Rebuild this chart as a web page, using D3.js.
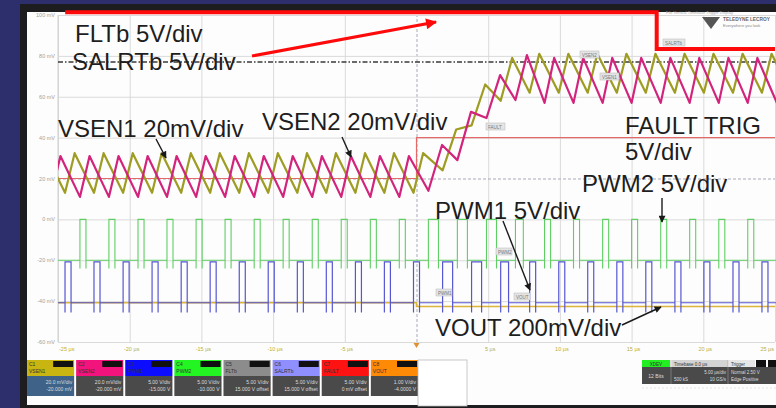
<!DOCTYPE html>
<html><head><meta charset="utf-8">
<script src="https://cdn.jsdelivr.net/npm/d3@7"></script>
<style>
body{margin:0;background:#2c2f6c;overflow:hidden}
svg{display:block}
text{font-family:"Liberation Sans",Arial,sans-serif}
</style></head><body>
<svg width="776" height="408"></svg>
<script>
// ---- data (time in µs, level in divisions) ----
const timeTicks = [-25,-20,-15,-10,-5,0,5,10,15,20,25];
const timeLabels = ["-25 µs","-20 µs","-15 µs","-10 µs","-5 µs","","5 µs","10 µs","15 µs","20 µs","25 µs"];
const divTicks = [4,3,2,1,0,-1,-2,-3,-4];
const voltLabels = ["100 mV","80 mV","60 mV","40 mV","20 mV","0 mV","-20 mV","-40 mV","-60 mV"];

// PWM1 (C3) pulse start times, widths
const pwm1Start = [-26.53,-24.51,-22.49,-20.46,-18.44,-16.41,-14.39,-12.36,-10.34,-8.31,-6.29,-4.26,-2.24,-0.21,
  1.82,3.84,5.87,7.89,9.92,11.94,13.97,15.99,18.02,20.04,22.07,24.09,26.11];
const pwm1Width = [0.42,0.42,0.42,0.42,0.42,0.42,0.42,0.42,0.42,0.42,0.42,0.42,0.42,0.42,
  0.7,0.7,0.55,0.42,0.42,0.42,0.42,0.42,0.42,0.42,0.42,0.42,0.42];
const pwm1Level = [-3.04,-2.04,-3.28]; // low, high, undershoot
// PWM2 (C4)
const pwm2Start = [-25.50,-23.47,-21.45,-19.42,-17.40,-15.37,-13.35,-11.32,-9.30,-7.27,-5.25,-3.22,-1.20,
  0.83,2.85,4.88,6.90,8.93,10.95,12.98,15.00,17.03,19.05,21.08,23.10,25.13];
const pwm2Width = [0.42,0.42,0.42,0.42,0.42,0.42,0.42,0.42,0.42,0.42,0.42,0.42,0.42,
  0.7,0.7,0.7,0.55,0.42,0.42,0.42,0.42,0.42,0.42,0.42,0.42,0.42];
const pwm2Level = [-2.0,-1.0,-2.2];
const senseLag = 0.25; // current sense peak lags the PWM falling edge (µs)

// VSEN1 (C1) trough / peak per PWM1 cycle
const vsen1Lo = [-0.35,-0.35,-0.35,-0.35,-0.35,-0.35,-0.35,-0.35,-0.35,-0.35,-0.35,-0.35,-0.35,-0.35,
  0.2,1.3,1.9,2.1,2.1,2.1,2.1,2.1,2.1,2.1,2.1,2.1,2.1];
const vsen1Hi = [0.62,0.62,0.62,0.62,0.62,0.62,0.62,0.62,0.62,0.62,0.62,0.62,0.62,0.62,
  1.2,2.3,2.95,3.05,3.05,3.05,3.05,3.05,3.05,3.05,3.05,3.05,3.05];
// VSEN2 (C2) trough / peak per PWM2 cycle
const vsen2Lo = [-0.45,-0.45,-0.45,-0.45,-0.45,-0.45,-0.45,-0.45,-0.45,-0.45,-0.45,-0.45,-0.45,
  -0.3,0.45,1.48,1.92,1.85,1.85,1.85,1.85,1.85,1.85,1.85,1.85,1.85];
const vsen2Hi = [0.55,0.55,0.55,0.55,0.55,0.55,0.55,0.55,0.55,0.55,0.55,0.55,0.55,
  0.82,1.63,2.53,3.02,2.95,2.95,2.95,2.95,2.95,2.95,2.95,2.95,2.95];

const voutTime = [-25,0,0,25], voutLevel = [-3.04,-3.04,-3.13,-3.13];
const salrtTime = [-25,25], salrtLevel = [2.85,2.85];
const faultTime = [-25,0,0,25], faultLevel = [0.0,0.0,1.0,1.0];
const fltTime = [-24.5,16.75,16.75,25], fltLevel = [4.07,4.07,3.17,3.17];

const chLabels = ["C1","C2","C3","C4","C5","C6","C7","C8"];
const chNames = ["VSEN1","VSEN2","PWM1","PWM2","FLTb","SALRTb","FAULT","VOUT"];
const chScales = ["20.0 mV/div","20.0 mV/div","5.00 V/div","5.00 V/div","5.00 V/div","5.00 V/div","5.00 V/div","1.00 V/div"];
const chOffsets = ["-20.000 mV","-20.000 mV","-15.000 V","-10.000 V","15.000 V offset","15.000 V offset","0 mV offset","-4.0000 V"];
const chColors = ["#c9b512","#f2137c","#0c0cff","#23f523","#8c8c8c","#8f8fff","#ff1212","#ff8a06"];

// ---- frame ----
const svg = d3.select("svg");
svg.append("rect").attr("width",776).attr("height",408).attr("fill","#2c2f6c");
svg.append("rect").attr("x",20).attr("y",4).attr("width",756).attr("height",404).attr("fill","#1d1d1f");
svg.append("rect").attr("x",27).attr("y",12).attr("width",749).attr("height",393).attr("fill","#fdfdfd");

let x = d3.scaleLinear().domain([-25,25]).range([58,775]);
let y = d3.scaleLinear().domain([-4,4]).range([342,15]);

// grid
var grid = svg.append("g");
grid.append("g").attr("transform","translate(0,342)")
  .call(d3.axisBottom(x).tickValues(timeTicks).tickSize(-327).tickFormat(""));
grid.append("g").attr("transform","translate(58,0)")
  .call(d3.axisLeft(y).tickValues(divTicks).tickSize(-717).tickFormat(""));
grid.selectAll(".domain").remove();
grid.selectAll(".tick line").attr("stroke","#dadada");
grid.selectAll(".tick").filter(d => d === 0).select("line")
  .attr("stroke","#a9a9b8").attr("stroke-dasharray","3,2");
grid.append("line").attr("x1",58).attr("x2",58).attr("y1",15).attr("y2",342).attr("stroke","#cfcfcf");

svg.selectAll(".vlab").data(divTicks).enter().append("text")
  .attr("x",55).attr("y",d => y(d)+2).attr("text-anchor","end")
  .attr("font-size",5.5).attr("fill","#a0a0a0")
  .text((d,i) => voltLabels[i]);
svg.selectAll(".tlab").data(timeTicks).enter().append("text")
  .attr("x",(d,i) => i === 0 ? x(d)+1 : (i === timeTicks.length-1 ? x(d)-1 : x(d)+2)).attr("y",351)
  .attr("text-anchor",(d,i) => i === 0 ? "start" : (i === timeTicks.length-1 ? "end" : "middle"))
  .attr("font-size",5.5).attr("fill","#b9ae3c")
  .text((d,i) => timeLabels[i]);
// trigger marker
svg.append("path").attr("d",`M${x(0)-3},343 L${x(0)+3},343 L${x(0)},348 Z`).attr("fill","#e09030");

svg.append("defs").append("clipPath").attr("id","plot")
  .append("rect").attr("x",58).attr("y",8).attr("width",718).attr("height",337);
var g = svg.append("g").attr("clip-path","url(#plot)");

const line = d3.line().x(d => x(d[0])).y(d => y(d[1]));
const zip = (t,v) => t.map((d,i) => [d, v[i]]);

// SALRTb dash-dot
g.append("path").attr("d",line(zip(salrtTime,salrtLevel)))
  .attr("fill","none").attr("stroke","#3a3a3a").attr("stroke-width",1.3)
  .attr("stroke-dasharray","5,2,1.5,2");
// fault trig level
g.append("path").attr("d",line(zip(faultTime,faultLevel)))
  .attr("fill","none").attr("stroke","#e46a6a").attr("stroke-width",1.2);

function pwmPoints(start,width,lev){
  let pts = [];
  start.forEach((s,i) => {
    let e = s + width[i];
    pts.push([s,lev[0]],[s,lev[2]],[s,lev[1]],[e,lev[1]],[e,lev[2]],[e,lev[0]]);
  });
  return pts;
}
function sawPoints(start,width,lo,hi){
  let pts = [];
  start.forEach((s,i) => { pts.push([s,lo[i]],[s+width[i]+senseLag,hi[i]]); });
  return pts;
}

// VOUT
g.append("path").attr("d",line(zip(voutTime,voutLevel)))
  .attr("fill","none").attr("stroke","#dcb53a").attr("stroke-width",1.6);
// PWM2 green
g.append("path").attr("d",line(pwmPoints(pwm2Start,pwm2Width,pwm2Level)))
  .attr("fill","none").attr("stroke","#5fcf64").attr("stroke-width",1.1);
// PWM1 blue
g.append("path").attr("d",line(pwmPoints(pwm1Start,pwm1Width,pwm1Level)))
  .attr("fill","none").attr("stroke","#5656d2").attr("stroke-width",1.2);
// VSEN1 olive, VSEN2 magenta
g.append("path").attr("d",line(sawPoints(pwm1Start,pwm1Width,vsen1Lo,vsen1Hi)))
  .attr("fill","none").attr("stroke","#9e9c22").attr("stroke-width",2.2).attr("stroke-linejoin","round");
g.append("path").attr("d",line(sawPoints(pwm2Start,pwm2Width,vsen2Lo,vsen2Hi)))
  .attr("fill","none").attr("stroke","#d2247c").attr("stroke-width",2.2).attr("stroke-linejoin","round");
// FLTb (highlighted red)
g.append("path").attr("d",line(zip(fltTime,fltLevel)))
  .attr("fill","none").attr("stroke","#ff0a0a").attr("stroke-width",4);

// little trace tags
function tag(tx,ty,label){
  svg.append("rect").attr("x",tx).attr("y",ty-4).attr("width",label.length*3+4).attr("height",7)
    .attr("fill","#e4e4e4").attr("stroke","#b8b8b8").attr("stroke-width",0.5);
  svg.append("text").attr("x",tx+2).attr("y",ty+1.5).attr("font-size",4.5).attr("fill","#777").text(label);
}
tag(663,43,"SALRTb"); tag(580,55,"VSEN2"); tag(600,77,"VSEN1"); tag(486,127,"FAULT");
tag(496,252,"PWM2"); tag(436,293,"PWM1"); tag(514,297,"VOUT");

// logo
svg.append("path").attr("d","M702,17 L720,17 L711,29 Z").attr("fill","#555");
svg.append("text").attr("x",723).attr("y",21).attr("font-size",4.8).attr("font-weight","bold").attr("fill","#666").text("TELEDYNE LECROY");
svg.append("text").attr("x",723).attr("y",27).attr("font-size",4).attr("fill","#888").text("Everywhere you look");
svg.append("text").attr("x",666).attr("y",14).attr("font-size",4).attr("fill","#aaa").text("File  Vertical  Timebase  Trigger  Display");

// annotations
var defs = svg.select("defs");
defs.append("marker").attr("id","ah").attr("viewBox","0 0 10 10").attr("refX",9).attr("refY",5)
  .attr("markerUnits","userSpaceOnUse").attr("markerWidth",9).attr("markerHeight",7).attr("orient","auto")
  .append("path").attr("d","M0,0 L10,5 L0,10 Z").attr("fill","#1a1a1a");
defs.append("marker").attr("id","ahr").attr("viewBox","0 0 10 10").attr("refX",9).attr("refY",5)
  .attr("markerUnits","userSpaceOnUse").attr("markerWidth",15).attr("markerHeight",11).attr("orient","auto")
  .append("path").attr("d","M0,0 L10,5 L0,10 Z").attr("fill","#ff0a0a");

const labels = [
  ["FLTb 5V/div",75,42], ["SALRTb 5V/div",72,70], ["VSEN1 20mV/div",58,137],
  ["VSEN2 20mV/div",262,130], ["FAULT TRIG",625,134], ["5V/div",625,160],
  ["PWM2 5V/div",582,192], ["PWM1 5V/div",435,219], ["VOUT 200mV/div",435,336]
];
svg.selectAll(".lab").data(labels).enter().append("text")
  .attr("x",d => d[1]).attr("y",d => d[2]).attr("font-size",24).attr("fill","#1e1e1e")
  .text(d => d[0]);

const arrows = [[156,139,166,158],[342,137,351,157],[662,198,662,222],[503,221,530,290],[622,325,661,307]];
arrows.forEach(a => {
  svg.append("line").attr("x1",a[0]).attr("y1",a[1]).attr("x2",a[2]).attr("y2",a[3])
    .attr("stroke","#1a1a1a").attr("stroke-width",1.4).attr("marker-end","url(#ah)");
});
svg.append("line").attr("x1",252).attr("y1",56).attr("x2",436).attr("y2",22)
  .attr("stroke","#ff0a0a").attr("stroke-width",3).attr("marker-end","url(#ahr)");

// ---- channel descriptor boxes ----
let band = d3.scaleBand().domain(chLabels).range([27,418]).paddingInner(0.04);
var boxes = svg.selectAll(".ch").data(chLabels).enter().append("g")
  .attr("transform",d => "translate(" + band(d) + ",360)");
boxes.append("rect").attr("width",band.bandwidth()).attr("height",16).attr("fill",(d,i) => chColors[i]);
boxes.append("rect").attr("y",16).attr("width",band.bandwidth()).attr("height",20)
  .attr("fill",(d,i) => i === 0 ? "#3f6288" : "#4a4a4a");
boxes.append("rect").attr("x",band.bandwidth()-21).attr("y",1).attr("width",20).attr("height",6).attr("fill","#111");
boxes.append("text").attr("x",2).attr("y",6).attr("font-size",5).attr("fill","#333").text(d => d);
boxes.append("text").attr("x",2).attr("y",13).attr("font-size",5).attr("fill","#333").text((d,i) => chNames[i]);
boxes.append("text").attr("x",band.bandwidth()-2).attr("y",24).attr("text-anchor","end")
  .attr("font-size",5).attr("fill","#ddd").text((d,i) => chScales[i]);
boxes.append("text").attr("x",band.bandwidth()-2).attr("y",31).attr("text-anchor","end")
  .attr("font-size",5).attr("fill","#ddd").text((d,i) => chOffsets[i]);
svg.append("rect").attr("x",418).attr("y",360).attr("width",49).attr("height",46)
  .attr("fill","#fff").attr("stroke","#bbb").attr("stroke-width",0.8);

// right status panel
svg.append("rect").attr("x",642).attr("y",360).attr("width",28).attr("height",7).attr("fill","#22ee22");
svg.append("rect").attr("x",642).attr("y",367).attr("width",134).attr("height",17).attr("fill","#4a4a4a");
svg.append("rect").attr("x",672).attr("y",360).attr("width",56).attr("height",7).attr("fill","#d4d4d4");
svg.append("rect").attr("x",729).attr("y",360).attr("width",26).attr("height",7).attr("fill","#e6e6e6");
svg.append("rect").attr("x",756).attr("y",360).attr("width",10).attr("height",7).attr("fill","#111");
svg.append("rect").attr("x",768).attr("y",360).attr("width",8).attr("height",7).attr("fill","#111");
[671,728].forEach(v => svg.append("line").attr("x1",v).attr("x2",v).attr("y1",360).attr("y2",384).attr("stroke","#999").attr("stroke-width",0.6));
svg.append("text").attr("x",656).attr("y",365.5).attr("text-anchor","middle").attr("font-size",4.5).attr("fill","#333").text("XDEV");
svg.append("text").attr("x",656).attr("y",378).attr("text-anchor","middle").attr("font-size",5).attr("fill","#ddd").text("12 Bits");
svg.append("text").attr("x",674).attr("y",365.5).attr("font-size",4.5).attr("fill","#333").text("Timebase    0.0 µs");
svg.append("text").attr("x",731).attr("y",365.5).attr("font-size",4.5).attr("fill","#333").text("Trigger");
svg.append("text").attr("x",726).attr("y",374).attr("text-anchor","end").attr("font-size",4.5).attr("fill","#ddd").text("5.00 µs/div");
svg.append("text").attr("x",674).attr("y",381).attr("font-size",4.5).attr("fill","#ddd").text("500 kS");
svg.append("text").attr("x",726).attr("y",381).attr("text-anchor","end").attr("font-size",4.5).attr("fill","#ddd").text("10 GS/s");
svg.append("text").attr("x",731).attr("y",374).attr("font-size",4.5).attr("fill","#ddd").text("Normal  2.50 V");
svg.append("text").attr("x",731).attr("y",381).attr("font-size",4.5).attr("fill","#ddd").text("Edge  Positive");
svg.append("line").attr("x1",642).attr("x2",776).attr("y1",388).attr("y2",388).attr("stroke","#ccc").attr("stroke-dasharray","2,2").attr("stroke-width",0.5);
</script></body></html>
